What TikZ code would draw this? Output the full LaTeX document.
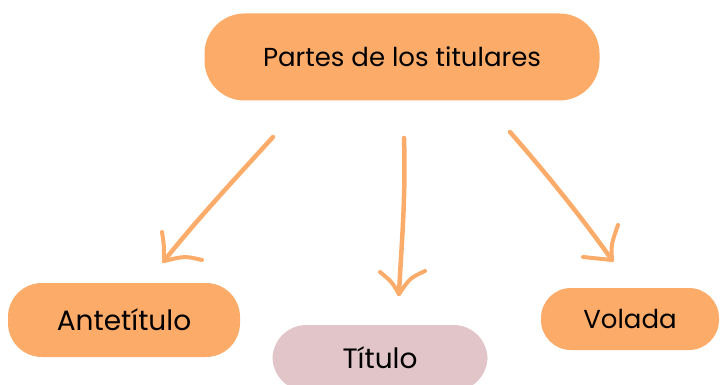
\documentclass[tikz,border=0pt]{standalone}
\usepackage{fontspec}
\setmainfont{Poppins}
\definecolor{boxorange}{RGB}{253,171,104}
\definecolor{boxpink}{RGB}{226,197,200}
\definecolor{arroworange}{RGB}{251,172,106}
\tikzset{
  pill/.style={fill=boxorange, rounded corners=34pt, minimum width=#1, minimum height=76pt, font=\fontsize{26}{30}\selectfont, text=black},
  hand/.style={draw=arroworange, line width=4.5pt, line cap=round, line join=round},
}
\begin{document}
\begin{tikzpicture}[x=1pt,y=-1pt]
\useasboundingbox (0,0) rectangle (721,385);
\node[pill=395pt, minimum height=87pt, rounded corners=40pt] (top) at (402,57) {Partes de los titulares};
\node[pill=232pt, minimum height=74pt, font=\fontsize{28}{32}\selectfont] (ante) at (124,320) {Antetítulo};
\node[pill=215pt, minimum height=66pt, fill=boxpink, font=\fontsize{28}{32}\selectfont] (tit) at (380,358) {Título};
\node[pill=178pt, minimum height=62pt, rounded corners=30pt] (vol) at (630,319) {Volada};
% left arrow
\coordinate (a1s) at (273,137);
\coordinate (a1t) at (164,261);
\coordinate (a1b1) at (162,232);
\coordinate (a1b2) at (202,260);
\draw[hand] (a1s) .. controls (232,182) and (195,222) .. (a1t);
\draw[hand, line width=4pt] (a1b1) .. controls (164,245) .. (a1t) .. controls (185,256) .. (a1b2);
% middle arrow
\coordinate (a2s) at (404,138);
\coordinate (a2t) at (399,294);
\coordinate (a2b1) at (380,272);
\coordinate (a2b2) at (425,271);
\draw[hand] (a2s) .. controls (406,200) and (401,250) .. (a2t);
\draw[hand, line width=4pt] (a2b1) .. controls (392,282) .. (a2t) .. controls (410,278) .. (a2b2);
% right arrow
\coordinate (a3s) at (510,132);
\coordinate (a3t) at (612,260);
\coordinate (a3b1) at (618,225);
\coordinate (a3b2) at (583,257);
\draw[hand] (a3s) .. controls (545,172) and (580,215) .. (a3t);
\draw[hand, line width=4pt] (a3b1) .. controls (611,245) .. (a3t) .. controls (598,258) .. (a3b2);
\end{tikzpicture}
\end{document}
